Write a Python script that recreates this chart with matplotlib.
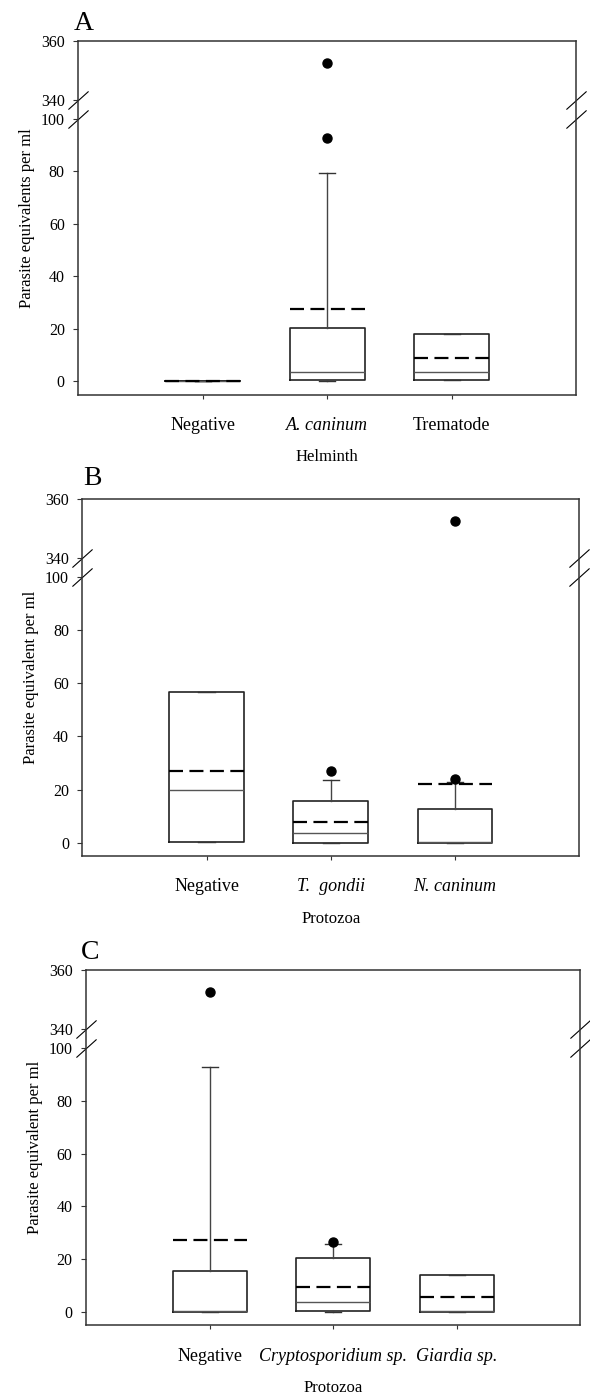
import numpy as np
import matplotlib

matplotlib.use('Agg')
import matplotlib.pyplot as plt

plt.rcParams['font.family'] = ['Liberation Serif', 'DejaVu Serif']

# Panel A - helminths
a_labels = ['Negative', 'A. caninum', 'Trematode']
a_q1 = [0, 0.4, 0.5]
a_med = [0, 3.5, 3.5]
a_q3 = [0, 20.2, 18.2]
a_mean = [0, 27.4, 8.9]
a_whislo = [0, 0, 0.5]
a_whishi = [0, 79.3, 18.2]
a_fliers = [[], [92.7, 352.4], []]

# Panel B - protozoa
b_labels = ['Negative', 'T.  gondii', 'N. caninum']
b_q1 = [0.4, 0, 0]
b_med = [19.7, 3.5, 0.3]
b_q3 = [56.7, 15.8, 12.8]
b_mean = [26.8, 7.8, 21.9]
b_whislo = [0.4, 0, 0]
b_whishi = [56.7, 23.6, 23.0]
b_fliers = [[], [26.9], [23.8, 352.4]]

# Panel C - protozoa
c_labels = ['Negative', 'Cryptosporidium sp.', 'Giardia sp.']
c_q1 = [0, 0.5, 0]
c_med = [0.5, 3.7, 0.3]
c_q3 = [15.5, 20.5, 14.2]
c_mean = [27.3, 9.7, 5.7]
c_whislo = [0, 0, 0]
c_whishi = [92.6, 25.7, 14.2]
c_fliers = [[352.4], [26.7], []]

y_ticks = [0, 20, 40, 60, 80, 100, 340, 360]

GAP = 7.2   # size of the break, in lower-axis units
K = 1.11    # stretch of the 340-360 segment


def fwd(y):
    y = np.asarray(y, dtype=float)
    return np.where(y <= 100, y,
                    np.where(y >= 340, 100 + GAP + (y - 340) * K,
                             100 + (y - 100) * GAP / 240.0))


def inv(u):
    u = np.asarray(u, dtype=float)
    return np.where(u <= 100, u,
                    np.where(u >= 100 + GAP, 340 + (u - 100 - GAP) / K,
                             100 + (u - 100) * 240.0 / GAP))


def draw_panel(ax, labels, q1, med, q3, mean, whislo, whishi, fliers,
               xlabel, ylabel, italic):
    stats = []
    for i in range(len(labels)):
        stats.append(dict(q1=q1[i], med=med[i], q3=q3[i], mean=mean[i],
                          whislo=whislo[i], whishi=whishi[i],
                          fliers=np.array(fliers[i])))
    ax.set_yscale('function', functions=(fwd, inv))
    ax.bxp(stats, positions=[1, 2, 3], widths=0.6, capwidths=0.13,
           showmeans=True, meanline=True, showfliers=True,
           boxprops=dict(color='#222222', linewidth=1.2),
           medianprops=dict(color='#555555', linewidth=1.0),
           whiskerprops=dict(color='#444444', linewidth=1.0),
           capprops=dict(color='#333333', linewidth=1.0),
           meanprops=dict(color='black', linewidth=1.6,
                          linestyle=(0, (6.3, 2.9))),
           flierprops=dict(marker='o', markerfacecolor='black',
                           markeredgecolor='black', markersize=6.5))
    ax.set_xlim(0, 4)
    ax.set_ylim(-5, 360)
    ax.set_yticks(y_ticks)
    ax.set_yticklabels([str(t) for t in y_ticks], fontsize=11.5)
    ax.set_xticks([1, 2, 3])
    ax.set_xticklabels(labels, fontsize=13)
    for lab, it in zip(ax.get_xticklabels(), italic):
        if it:
            lab.set_fontstyle('italic')
    ax.tick_params(axis='x', direction='out', length=3, width=0.8,
                   pad=13, colors='#333333', labelcolor='black')
    ax.tick_params(axis='y', direction='out', length=3.6, width=0.8,
                   pad=6, colors='#333333', labelcolor='black')
    ax.minorticks_off()
    for sp in ax.spines.values():
        sp.set_color('#333333')
        sp.set_linewidth(1.1)
    ax.set_xlabel(xlabel, fontsize=12, labelpad=11)
    ax.set_ylabel(ylabel, fontsize=12, labelpad=4)

    # axis break marks on both side spines
    trans = ax.get_yaxis_transform()
    ax.plot([0, 0, 1, 1], [340, 100, 340, 100], transform=trans,
            marker=[(-1, -0.9), (1, 0.9)], markersize=14.5, linestyle='none',
            color='black', mec='black', mew=0.8, clip_on=False)


fig = plt.figure(figsize=(5.9, 13.96), dpi=100, facecolor='w')

ax_a = fig.add_axes([0.1324, 0.7174, 0.8442, 0.2530])
ax_b = fig.add_axes([0.1395, 0.3868, 0.8422, 0.2560])
ax_c = fig.add_axes([0.1458, 0.0506, 0.8380, 0.2545])

draw_panel(ax_a, a_labels, a_q1, a_med, a_q3, a_mean, a_whislo, a_whishi,
           a_fliers, 'Helminth', 'Parasite equivalents per ml',
           [False, True, False])
draw_panel(ax_b, b_labels, b_q1, b_med, b_q3, b_mean, b_whislo, b_whishi,
           b_fliers, 'Protozoa', 'Parasite equivalent per ml',
           [False, True, True])
draw_panel(ax_c, c_labels, c_q1, c_med, c_q3, c_mean, c_whislo, c_whishi,
           c_fliers, 'Protozoa', 'Parasite equivalent per ml',
           [False, True, True])

fig.text(73.6 / 590, 1 - 30 / 1396, 'A', fontsize=20, va='baseline')
fig.text(83 / 590, 1 - 485 / 1396, 'B', fontsize=20, va='baseline')
fig.text(81 / 590, 1 - 959 / 1396, 'C', fontsize=20, va='baseline')

fig.savefig('out.png', dpi=100)
plt.close(fig)
